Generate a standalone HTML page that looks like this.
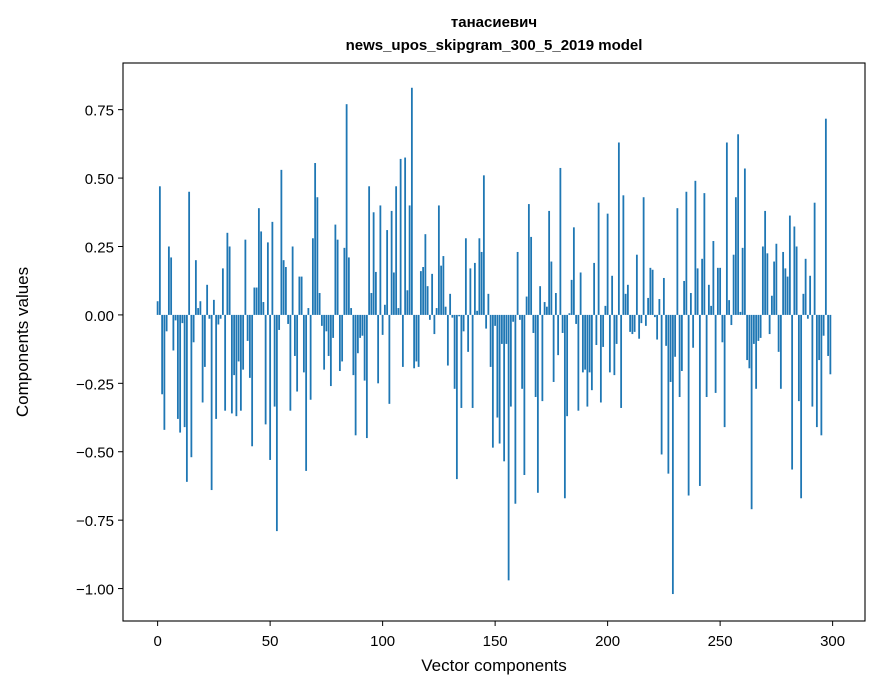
<!DOCTYPE html>
<html><head><meta charset="utf-8"><style>
html,body{margin:0;padding:0;background:#fff;}
svg{display:block;font-family:"Liberation Sans","DejaVu Sans",sans-serif;}
</style></head><body>
<svg id="chart" width="880" height="696" viewBox="0 0 880 696" xmlns="http://www.w3.org/2000/svg">
<rect x="0" y="0" width="880" height="696" fill="#fff"/>
<text x="494" y="27" text-anchor="middle" font-size="15" font-weight="bold">танасиевич</text>
<text x="494" y="50" text-anchor="middle" font-size="15" font-weight="bold">news_upos_skipgram_300_5_2019 model</text>
<g id="bars"></g>
<g id="xticks"></g>
<g id="yticks"></g>
<rect x="123" y="63" width="742" height="558" fill="none" stroke="#000" stroke-width="1.1"/>
<text x="494" y="677" text-anchor="middle" font-size="17" dy="-6">Vector components</text>
<text x="0" y="0" transform="translate(28,342) rotate(-90)" text-anchor="middle" font-size="17">Components values</text>
</svg>
<script>
const values = [
0.05,0.47,-0.29,-0.42,-0.06,0.25,0.21,-0.13,-0.02,-0.38,
-0.43,-0.03,-0.41,-0.61,0.45,-0.52,-0.10,0.20,0.025,0.05,
-0.32,-0.19,0.11,-0.014,-0.64,0.055,-0.38,-0.035,-0.014,0.17,
-0.35,0.30,0.25,-0.36,-0.22,-0.37,-0.17,-0.35,-0.20,0.275,
-0.095,-0.23,-0.48,0.10,0.10,0.39,0.305,0.047,-0.40,0.265,
-0.53,0.34,-0.335,-0.79,-0.055,0.53,0.20,0.175,-0.033,-0.35,
0.25,-0.15,-0.28,0.14,0.14,-0.21,-0.57,0.025,-0.31,0.28,
0.555,0.43,0.08,-0.04,-0.20,-0.06,-0.15,-0.26,-0.084,0.33,
0.275,-0.205,-0.17,0.245,0.77,0.21,0.025,-0.22,-0.44,-0.14,
-0.084,-0.076,-0.24,-0.45,0.47,0.08,0.375,0.157,-0.25,0.40,
-0.073,0.037,0.31,-0.325,0.38,0.155,0.47,0.025,0.57,-0.19,
0.575,0.09,0.40,0.83,-0.195,-0.17,-0.19,0.16,0.175,0.295,
0.105,-0.018,0.15,-0.07,0.025,0.40,0.18,0.215,0.03,-0.185,
0.077,-0.01,-0.27,-0.60,-0.005,-0.34,-0.06,0.28,-0.135,0.17,
-0.34,0.19,0.015,0.28,0.23,0.51,-0.05,0.077,-0.19,-0.485,
-0.04,-0.375,-0.47,-0.106,-0.535,-0.106,-0.97,-0.335,-0.025,-0.69,
0.23,-0.018,-0.27,-0.585,0.067,0.405,0.285,-0.066,-0.30,-0.65,
0.105,-0.315,0.047,0.03,0.38,0.195,-0.245,0.08,-0.147,0.537,
-0.066,-0.67,-0.37,0.006,0.128,0.32,-0.033,-0.35,0.155,-0.21,
-0.20,-0.335,-0.21,-0.275,0.19,-0.11,0.41,-0.32,-0.117,0.033,
0.37,-0.21,0.143,-0.22,-0.106,0.63,-0.34,0.437,0.077,0.11,
-0.062,-0.07,-0.062,0.22,-0.087,-0.03,0.43,-0.04,0.062,0.172,
0.165,-0.008,-0.09,0.058,-0.51,0.135,-0.113,-0.58,-0.245,-1.02,
-0.153,0.39,-0.30,-0.205,0.124,0.45,-0.66,0.08,-0.12,0.49,
0.17,-0.625,0.205,0.445,-0.30,0.11,0.033,0.27,-0.285,0.172,
0.172,-0.10,-0.41,0.63,0.054,-0.037,0.22,0.43,0.66,0.011,
0.245,0.535,-0.165,-0.195,-0.71,-0.106,-0.27,-0.095,-0.084,0.25,
0.38,0.225,-0.07,0.07,0.195,0.26,-0.135,-0.27,0.23,0.17,
0.14,0.363,-0.565,0.323,0.25,-0.315,-0.67,0.077,0.205,-0.014,
0.143,-0.335,0.41,-0.41,-0.165,-0.44,-0.076,0.717,-0.15,-0.217
];
const xTickValues = [0,50,100,150,200,250,300];
const yTickValues = [-1.0,-0.75,-0.5,-0.25,0,0.25,0.5,0.75];
const yTickLabels = ["\u22121.00","\u22120.75","\u22120.50","\u22120.25","0.00","0.25","0.50","0.75"];

const NS = "http://www.w3.org/2000/svg";
const L=123,R=865,T=63,B=621;
const xmin=-15.39,xmax=314.39,ymin=-1.1185,ymax=0.9205;
function xs(v){return L+(v-xmin)/(xmax-xmin)*(R-L);}
function ys(v){return B-(v-ymin)/(ymax-ymin)*(B-T);}
const bars=document.getElementById('bars');
values.forEach((v,i)=>{
  const r=document.createElementNS(NS,'rect');
  const x0=xs(i-0.4),x1=xs(i+0.4);
  const y0=ys(Math.max(v,0)),y1=ys(Math.min(v,0));
  r.setAttribute('x',x0);r.setAttribute('width',x1-x0);
  r.setAttribute('y',y0);r.setAttribute('height',Math.max(y1-y0,0.1));
  r.setAttribute('fill','#1f77b4');
  
  
  bars.appendChild(r);
});
const xt=document.getElementById('xticks');
xTickValues.forEach(v=>{
  const x=xs(v);
  const l=document.createElementNS(NS,'line');
  l.setAttribute('x1',x);l.setAttribute('x2',x);l.setAttribute('y1',B);l.setAttribute('y2',B+5);
  l.setAttribute('stroke','#000');
  
  
  xt.appendChild(l);
  const t=document.createElementNS(NS,'text');
  t.setAttribute('x',x);t.setAttribute('y',B+25);t.setAttribute('text-anchor','middle');t.setAttribute('font-size','15');
  t.textContent=v;
  
  
  xt.appendChild(t);
});
const yt=document.getElementById('yticks');
yTickValues.forEach((v,i)=>{
  const y=ys(v);
  const l=document.createElementNS(NS,'line');
  l.setAttribute('x1',L-5);l.setAttribute('x2',L);l.setAttribute('y1',y);l.setAttribute('y2',y);
  l.setAttribute('stroke','#000');
  
  
  yt.appendChild(l);
  const t=document.createElementNS(NS,'text');
  t.setAttribute('x',L-9);t.setAttribute('y',y+6);t.setAttribute('text-anchor','end');t.setAttribute('font-size','15');
  t.textContent=yTickLabels[i];
  
  
  yt.appendChild(t);
});
</script>
</body></html>
